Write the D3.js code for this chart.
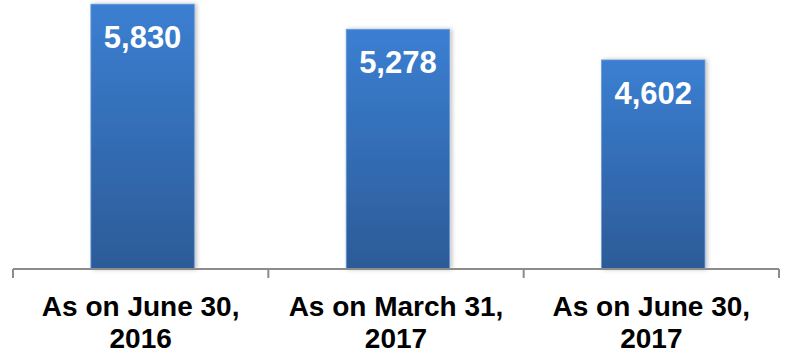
<!DOCTYPE html>
<html>
<head>
<meta charset="utf-8">
<script src="https://cdn.jsdelivr.net/npm/d3@7"></script>
<style>
  html, body { margin: 0; padding: 0; background: #fff; }
  svg { display: block; }
</style>
</head>
<body>
<svg id="chart" width="788" height="354"></svg>
<script>
// Category labels (two lines each) and values
const categories = ["As on June 30, 2016", "As on March 31, 2017", "As on June 30, 2017"];
const labelLines = [["As on June 30,", "2016"], ["As on March 31,", "2017"], ["As on June 30,", "2017"]];
const values = [5830, 5278, 4602];

const svg = d3.select("#chart");
const baseY = 269;

const x = d3.scaleBand().domain(categories).range([13, 779]).paddingInner(0).paddingOuter(0);
const y = d3.scaleLinear().domain([0, 5900]).range([baseY, 1]);

const defs = svg.append("defs");
const grad = defs.append("linearGradient")
  .attr("id", "barGrad").attr("x1", 0).attr("y1", 0).attr("x2", 0).attr("y2", 1);
grad.append("stop").attr("offset", "0%").attr("stop-color", "#3b7fd2");
grad.append("stop").attr("offset", "100%").attr("stop-color", "#2c5b98");

const shadow = defs.append("filter").attr("id", "shadow")
  .attr("x", "-10%").attr("y", "-10%").attr("width", "130%").attr("height", "120%");
shadow.append("feDropShadow").attr("dx", 2).attr("dy", 0).attr("stdDeviation", 2)
  .attr("flood-color", "#000").attr("flood-opacity", 0.25);

const bw = x.bandwidth() * 0.405;
const off = x.bandwidth() * 0.305;

// Bars
svg.append("g").selectAll("rect")
  .data(values)
  .join("rect")
  .attr("x", (d, i) => x(categories[i]) + off)
  .attr("y", d => y(d))
  .attr("width", bw)
  .attr("height", d => baseY - y(d))
  .attr("fill", "url(#barGrad)")
  .attr("stroke", "#6a9ad8")
  .attr("stroke-width", 0.8)
  .attr("filter", "url(#shadow)");

// Value labels inside bars
const fmt = d3.format(",");
svg.append("g").selectAll("text")
  .data(values)
  .join("text")
  .attr("x", (d, i) => x(categories[i]) + off + bw / 2)
  .attr("y", d => y(d) + 44)
  .attr("text-anchor", "middle")
  .attr("fill", "#fff")
  .attr("font-family", "Liberation Sans, Arial, sans-serif")
  .attr("font-weight", "bold")
  .attr("font-size", 31)
  .text(d => fmt(d));

// X axis line with tick marks at band boundaries
const axis = svg.append("g").attr("stroke", "#8c8c8c").attr("stroke-width", 2).attr("fill", "none");
axis.append("line").attr("x1", 13).attr("x2", 779).attr("y1", baseY).attr("y2", baseY);
const tickPos = categories.map(c => x(c)).concat([x(categories[categories.length - 1]) + x.bandwidth()]);
axis.selectAll(".tick").data(tickPos).join("line")
  .attr("class", "tick")
  .attr("x1", d => d).attr("x2", d => d)
  .attr("y1", baseY).attr("y2", baseY + 9);

// Category labels
const lbl = svg.append("g").selectAll("text")
  .data(labelLines)
  .join("text")
  .attr("text-anchor", "middle")
  .attr("fill", "#000")
  .attr("font-family", "Liberation Sans, Arial, sans-serif")
  .attr("font-weight", "bold")
  .attr("font-size", 28)
  .attr("transform", (d, i) => `translate(${x(categories[i]) + x.bandwidth() / 2},0)`);
lbl.selectAll("tspan")
  .data(d => d)
  .join("tspan")
  .attr("x", 0)
  .attr("y", (d, j) => 316 + j * 32)
  .text(d => d);
</script>
</body>
</html>
